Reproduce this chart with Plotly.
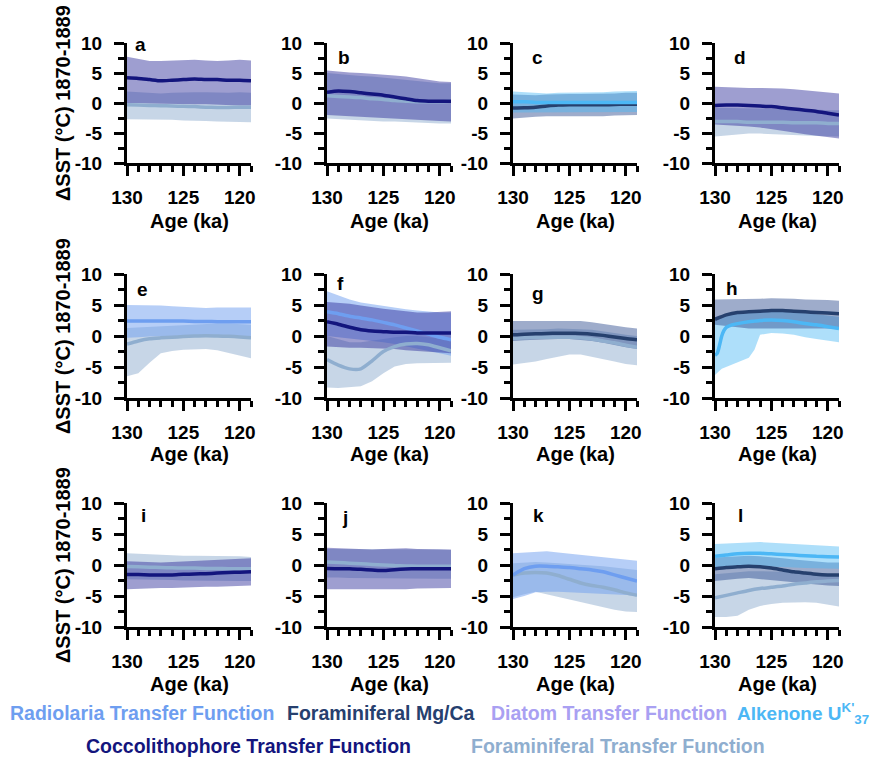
import plotly.graph_objects as go

# ---------------- data ----------------
AGE = [130, 129, 128, 127, 126, 125, 124, 123, 122, 121, 120, 119]
AGE_H_ALK = [130, 129.8, 129.6, 129.4, 129.2, 129, 128.5, 128, 127, 126.5, 126, 125, 124, 123, 122, 121, 120, 119]

X_TICKS = [130, 125, 120]
X_TICK_LABELS = ["130", "125", "120"]
X_MINOR = [129, 128, 127, 126, 124, 123, 122, 121, 119]
Y_TICKS = [-10, -5, 0, 5, 10]
Y_TICK_LABELS = ["-10", "-5", "0", "5", "10"]
Y_MINOR = [-7.5, -2.5, 2.5, 7.5]
PANEL_LETTERS = ["a", "b", "c", "d", "e", "f", "g", "h", "i", "j", "k", "l"]

# panel a
A_COCCO_MEAN = [4.2, 4.1, 3.9, 3.7, 3.8, 3.9, 4.0, 3.9, 3.9, 3.8, 3.8, 3.7]
A_COCCO_HI = [7.7, 7.3, 7.0, 7.0, 7.1, 7.2, 7.2, 7.1, 7.0, 7.1, 7.2, 7.1]
A_COCCO_LO = [0.0, 0.0, -0.1, -0.1, -0.1, -0.2, -0.2, -0.2, -0.3, -0.3, -0.4, -0.4]
A_FORAM_MEAN = [-0.3, -0.35, -0.4, -0.45, -0.5, -0.55, -0.6, -0.7, -0.75, -0.75, -0.7, -0.7]
A_FORAM_HI = [1.9, 1.8, 1.6, 1.6, 1.7, 1.8, 1.8, 1.8, 1.7, 1.7, 1.8, 1.7]
A_FORAM_LO = [-2.7, -2.7, -2.7, -2.8, -2.8, -2.9, -3.0, -3.0, -3.1, -3.1, -3.2, -3.2]
# panel b
B_COCCO_MEAN = [1.8, 2.0, 1.9, 1.7, 1.5, 1.3, 1.0, 0.7, 0.4, 0.3, 0.3, 0.3]
B_COCCO_HI = [5.4, 5.2, 5.1, 5.0, 4.9, 4.8, 4.6, 4.4, 4.1, 3.8, 3.6, 3.5]
B_COCCO_LO = [-2.0, -2.1, -2.2, -2.3, -2.4, -2.5, -2.6, -2.7, -2.8, -2.9, -3.0, -3.1]
B_FORAM_MEAN = [1.2, 1.1, 1.0, 0.9, 0.7, 0.6, 0.4, 0.3, 0.2, 0.2, 0.2, 0.3]
B_FORAM_HI = [5.0, 4.8, 4.7, 4.5, 4.4, 4.2, 4.0, 3.8, 3.6, 3.4, 3.3, 3.3]
B_FORAM_LO = [-2.6, -2.7, -2.8, -2.9, -3.0, -3.1, -3.1, -3.2, -3.3, -3.3, -3.4, -3.4]
# panel c
C_MGCA_MEAN = [-0.85, -0.8, -0.7, -0.5, -0.35, -0.3, -0.3, -0.3, -0.3, -0.25, -0.2, -0.2]
C_MGCA_HI = [1.4, 1.3, 1.3, 1.4, 1.5, 1.5, 1.5, 1.5, 1.6, 1.6, 1.7, 1.7]
C_MGCA_LO = [-2.6, -2.5, -2.3, -2.2, -2.1, -2.1, -2.2, -2.2, -2.2, -2.1, -2.0, -2.0]
C_ALK_MEAN = [0.2, 0.2, 0.1, 0.1, 0.1, 0.1, 0.1, 0.1, 0.1, 0.1, 0.1, 0.1]
C_ALK_HI = [1.9, 1.8, 1.6, 1.6, 1.7, 1.7, 1.7, 1.8, 1.8, 1.9, 2.0, 2.0]
C_ALK_LO = [-1.6, -1.6, -1.5, -1.5, -1.5, -1.5, -1.5, -1.5, -1.5, -1.5, -1.5, -1.5]
# panel d
D_COCCO_MEAN = [-0.4, -0.35, -0.35, -0.4, -0.5, -0.6, -0.8, -1.0, -1.2, -1.4, -1.7, -2.0]
D_COCCO_HI = [2.7, 2.6, 2.6, 2.5, 2.5, 2.5, 2.4, 2.3, 2.1, 1.9, 1.7, 1.6]
D_COCCO_LO = [-3.6, -3.7, -3.8, -3.9, -4.1, -4.3, -4.6, -4.9, -5.2, -5.5, -5.7, -5.9]
D_FORAM_MEAN = [-3.1, -3.1, -3.1, -3.2, -3.2, -3.2, -3.2, -3.3, -3.3, -3.3, -3.4, -3.4]
D_FORAM_HI = [-0.8, -0.8, -0.8, -0.9, -0.9, -1.0, -1.0, -1.0, -1.1, -1.1, -1.2, -1.2]
D_FORAM_LO = [-5.6, -5.4, -5.2, -5.1, -5.1, -5.1, -5.2, -5.3, -5.4, -5.5, -5.6, -5.6]
# panel e
E_RADIO_MEAN = [2.4, 2.4, 2.4, 2.4, 2.4, 2.4, 2.35, 2.35, 2.3, 2.3, 2.3, 2.3]
E_RADIO_HI = [5.0, 5.0, 4.9, 4.9, 4.8, 4.7, 4.6, 4.5, 4.6, 4.6, 4.6, 4.6]
E_RADIO_LO = [-0.3, -0.2, -0.1, 0.0, 0.0, 0.0, 0.0, 0.0, 0.0, 0.0, 0.0, 0.0]
E_FORAM_MEAN = [-1.3, -0.8, -0.45, -0.3, -0.2, -0.1, 0.0, 0.05, 0.0, -0.05, -0.15, -0.3]
E_FORAM_HI = [1.3, 1.4, 1.5, 1.6, 1.7, 1.8, 1.9, 2.0, 2.0, 2.0, 1.9, 1.8]
E_FORAM_LO = [-6.5, -6.0, -4.3, -2.8, -2.4, -2.2, -2.1, -2.1, -2.3, -2.7, -3.2, -3.6]
# panel f
F_COCCO_MEAN = [2.3, 1.9, 1.4, 1.0, 0.8, 0.7, 0.6, 0.6, 0.5, 0.5, 0.5, 0.5]
F_COCCO_HI = [5.5, 5.4, 5.2, 4.9, 4.6, 4.4, 4.2, 4.0, 3.8, 3.8, 3.9, 4.0]
F_COCCO_LO = [-1.7, -1.8, -1.9, -1.9, -2.0, -2.0, -2.1, -2.3, -2.4, -2.6, -2.7, -2.8]
F_RADIO_MEAN = [3.9, 3.6, 3.2, 2.9, 2.6, 2.2, 1.8, 1.3, 0.8, 0.3, -0.2, -0.6]
F_RADIO_HI = [7.2, 6.5, 5.9, 5.4, 5.1, 4.8, 4.5, 4.3, 4.1, 3.9, 3.8, 3.8]
F_RADIO_LO = [0.0, -0.2, -0.4, -0.6, -0.8, -1.0, -1.3, -1.6, -2.0, -2.4, -2.8, -3.2]
F_FORAM_MEAN = [-3.8, -4.7, -5.3, -5.3, -4.0, -2.5, -1.7, -1.3, -1.2, -1.4, -1.9, -2.4]
F_FORAM_HI = [0.0, -0.5, -1.0, -1.0, -0.8, -0.5, -0.2, 0.0, 0.0, -0.2, -0.4, -0.6]
F_FORAM_LO = [-8.3, -8.4, -8.3, -8.1, -7.3, -6.0, -4.9, -4.5, -4.4, -4.3, -4.3, -4.3]
# panel g
G_MGCA_MEAN = [0.2, 0.3, 0.35, 0.4, 0.45, 0.45, 0.4, 0.3, 0.1, -0.15, -0.4, -0.6]
G_MGCA_HI = [2.4, 2.4, 2.4, 2.4, 2.5, 2.5, 2.4, 2.2, 1.9, 1.6, 1.4, 1.2]
G_MGCA_LO = [-0.8, -0.7, -0.6, -0.5, -0.5, -0.5, -0.6, -0.8, -1.1, -1.4, -1.8, -2.1]
G_FORAM_MEAN = [-0.4, -0.3, -0.2, -0.2, -0.2, -0.2, -0.3, -0.5, -0.8, -1.1, -1.5, -1.8]
G_FORAM_HI = [1.0, 1.0, 1.1, 1.1, 1.2, 1.2, 1.1, 1.0, 0.8, 0.5, 0.2, 0.0]
G_FORAM_LO = [-4.6, -4.4, -4.1, -3.7, -3.3, -3.0, -3.0, -3.3, -3.7, -4.1, -4.5, -4.7]
# panel h
H_MGCA_MEAN = [2.7, 3.4, 3.8, 3.9, 4.0, 4.1, 4.1, 4.0, 3.9, 3.8, 3.7, 3.6]
H_MGCA_HI = [5.9, 5.9, 5.9, 6.0, 6.0, 6.1, 6.1, 6.0, 5.9, 5.9, 5.8, 5.7]
H_MGCA_LO = [1.8, 1.6, 1.4, 1.2, 1.2, 1.2, 1.2, 1.2, 1.2, 1.2, 1.2, 1.2]
H_ALK_MEAN = [-3.1, -2.8, -1.5, 0.0, 0.9, 1.4, 1.8, 2.0, 2.3, 2.4, 2.5, 2.6, 2.5, 2.3, 2.0, 1.8, 1.5, 1.2]
H_ALK_HI = [3.0, 3.0, 3.1, 3.2, 3.3, 3.4, 3.6, 3.7, 3.8, 3.85, 3.9, 4.0, 4.0, 3.9, 3.7, 3.5, 3.3, 3.1]
H_ALK_LO = [-6.3, -6.0, -5.6, -5.3, -5.1, -5.0, -4.6, -4.2, -3.5, -2.2, 0.2, 0.5, 0.4, 0.2, -0.2, -0.5, -0.8, -1.0]
# panel i
I_COCCO_MEAN = [-1.55, -1.55, -1.6, -1.6, -1.6, -1.5, -1.45, -1.4, -1.3, -1.2, -1.15, -1.1]
I_COCCO_HI = [0.6, 0.5, 0.4, 0.4, 0.5, 0.6, 0.7, 0.8, 0.9, 1.0, 1.1, 1.1]
I_COCCO_LO = [-3.9, -3.8, -3.8, -3.7, -3.7, -3.6, -3.6, -3.5, -3.5, -3.4, -3.4, -3.3]
I_FORAM_MEAN = [-0.25, -0.3, -0.35, -0.4, -0.45, -0.5, -0.5, -0.55, -0.55, -0.6, -0.6, -0.6]
I_FORAM_HI = [1.9, 1.8, 1.7, 1.6, 1.6, 1.5, 1.5, 1.5, 1.4, 1.4, 1.4, 1.3]
I_FORAM_LO = [-2.3, -2.3, -2.4, -2.4, -2.4, -2.5, -2.5, -2.5, -2.6, -2.6, -2.6, -2.6]
# panel j
J_COCCO_MEAN = [-0.55, -0.6, -0.6, -0.7, -0.8, -0.9, -0.75, -0.65, -0.6, -0.6, -0.6, -0.6]
J_COCCO_HI = [2.8, 2.7, 2.7, 2.6, 2.5, 2.6, 2.7, 2.7, 2.6, 2.6, 2.5, 2.5]
J_COCCO_LO = [-3.9, -3.9, -3.9, -4.0, -4.0, -4.0, -3.9, -3.9, -3.8, -3.8, -3.7, -3.7]
J_FORAM_MEAN = [0.5, 0.4, 0.3, 0.2, 0.1, 0.0, -0.1, -0.15, -0.2, -0.2, -0.2, -0.2]
J_FORAM_HI = [2.6, 2.6, 2.6, 2.6, 2.5, 2.5, 2.5, 2.5, 2.5, 2.5, 2.5, 2.4]
J_FORAM_LO = [-2.0, -2.0, -2.1, -2.1, -2.1, -2.2, -2.2, -2.2, -2.2, -2.2, -2.2, -2.2]
# panel k
K_RADIO_MEAN = [-1.6, -0.6, -0.2, -0.2, -0.3, -0.4, -0.6, -0.8, -1.1, -1.6, -2.1, -2.6]
K_RADIO_HI = [1.9, 2.0, 2.1, 2.2, 2.0, 1.8, 1.6, 1.4, 1.3, 1.0, 0.8, 0.7]
K_RADIO_LO = [-5.5, -5.0, -4.4, -4.3, -4.3, -4.3, -4.4, -4.5, -4.6, -4.7, -4.8, -4.9]
K_FORAM_MEAN = [-1.6, -1.3, -1.2, -1.3, -1.7, -2.3, -2.9, -3.3, -3.6, -4.0, -4.5, -4.9]
K_FORAM_HI = [0.3, 0.4, 0.5, 0.4, 0.3, 0.2, 0.1, 0.0, -0.2, -0.4, -0.6, -0.8]
K_FORAM_LO = [-5.2, -4.7, -4.3, -4.7, -5.2, -5.6, -6.0, -6.4, -6.8, -7.2, -7.5, -7.6]
# panel l
L_ALK_MEAN = [1.4, 1.6, 1.8, 1.9, 1.9, 1.8, 1.7, 1.6, 1.5, 1.4, 1.35, 1.3]
L_ALK_HI = [3.4, 3.5, 3.6, 3.7, 3.7, 3.6, 3.5, 3.3, 3.2, 3.1, 3.0, 3.0]
L_ALK_LO = [-0.4, -0.3, -0.2, -0.1, -0.1, -0.2, -0.3, -0.4, -0.5, -0.6, -0.6, -0.6]
L_MGCA_MEAN = [-0.6, -0.4, -0.3, -0.2, -0.3, -0.5, -0.8, -1.1, -1.3, -1.5, -1.6, -1.6]
L_MGCA_HI = [1.2, 1.3, 1.4, 1.5, 1.4, 1.3, 1.1, 0.9, 0.7, 0.5, 0.4, 0.4]
L_MGCA_LO = [-2.6, -2.4, -2.2, -2.1, -2.2, -2.4, -2.6, -2.8, -3.0, -3.2, -3.3, -3.4]
L_FORAM_MEAN = [-5.3, -4.9, -4.5, -4.1, -3.8, -3.6, -3.4, -3.1, -2.9, -2.7, -2.6, -2.5]
L_FORAM_HI = [-1.5, -1.3, -1.1, -1.0, -1.0, -1.0, -1.1, -1.2, -1.3, -1.4, -1.5, -1.6]
L_FORAM_LO = [-8.4, -8.4, -8.2, -7.2, -6.6, -6.3, -6.1, -6.0, -6.0, -6.1, -6.4, -6.7]

LEGEND_NAMES = {
    "radio": "Radiolaria Transfer Function",
    "mgca": "Foraminiferal Mg/Ca",
    "diatom": "Diatom Transfer Function",
    "alk": "Alkenone U<sup>K'</sup><sub>37</sub>",
    "cocco": "Coccolithophore Transfer Function",
    "foram": "Foraminiferal Transfer Function",
}

PANELS = [
    [("foram", AGE, A_FORAM_MEAN, A_FORAM_LO, A_FORAM_HI), ("cocco", AGE, A_COCCO_MEAN, A_COCCO_LO, A_COCCO_HI)],
    [("foram", AGE, B_FORAM_MEAN, B_FORAM_LO, B_FORAM_HI), ("cocco", AGE, B_COCCO_MEAN, B_COCCO_LO, B_COCCO_HI)],
    [("mgca", AGE, C_MGCA_MEAN, C_MGCA_LO, C_MGCA_HI), ("alk", AGE, C_ALK_MEAN, C_ALK_LO, C_ALK_HI)],
    [("foram", AGE, D_FORAM_MEAN, D_FORAM_LO, D_FORAM_HI), ("cocco", AGE, D_COCCO_MEAN, D_COCCO_LO, D_COCCO_HI)],
    [("foram", AGE, E_FORAM_MEAN, E_FORAM_LO, E_FORAM_HI), ("radio", AGE, E_RADIO_MEAN, E_RADIO_LO, E_RADIO_HI)],
    [("foram", AGE, F_FORAM_MEAN, F_FORAM_LO, F_FORAM_HI), ("radio", AGE, F_RADIO_MEAN, F_RADIO_LO, F_RADIO_HI),
     ("cocco", AGE, F_COCCO_MEAN, F_COCCO_LO, F_COCCO_HI)],
    [("foram", AGE, G_FORAM_MEAN, G_FORAM_LO, G_FORAM_HI), ("mgca", AGE, G_MGCA_MEAN, G_MGCA_LO, G_MGCA_HI)],
    [("alk", AGE_H_ALK, H_ALK_MEAN, H_ALK_LO, H_ALK_HI), ("mgca", AGE, H_MGCA_MEAN, H_MGCA_LO, H_MGCA_HI)],
    [("foram", AGE, I_FORAM_MEAN, I_FORAM_LO, I_FORAM_HI), ("cocco", AGE, I_COCCO_MEAN, I_COCCO_LO, I_COCCO_HI)],
    [("foram", AGE, J_FORAM_MEAN, J_FORAM_LO, J_FORAM_HI), ("cocco", AGE, J_COCCO_MEAN, J_COCCO_LO, J_COCCO_HI)],
    [("foram", AGE, K_FORAM_MEAN, K_FORAM_LO, K_FORAM_HI), ("radio", AGE, K_RADIO_MEAN, K_RADIO_LO, K_RADIO_HI)],
    [("foram", AGE, L_FORAM_MEAN, L_FORAM_LO, L_FORAM_HI), ("mgca", AGE, L_MGCA_MEAN, L_MGCA_LO, L_MGCA_HI),
     ("alk", AGE, L_ALK_MEAN, L_ALK_LO, L_ALK_HI)],
]

# ---------------- style ----------------
LINE_COL = {"radio": "#6e9ef0", "mgca": "#26406e", "diatom": "#a9a0f2",
            "alk": "#4cb7f5", "cocco": "#13157d", "foram": "#8faecf"}
BAND_COL = {"radio": "rgba(110,158,240,0.5)", "mgca": "rgba(40,70,140,0.45)",
            "diatom": "rgba(169,160,242,0.5)", "alk": "rgba(76,183,245,0.45)",
            "cocco": "rgba(40,40,150,0.45)", "foram": "rgba(143,174,207,0.5)"}

W, H = 871, 761
FONT = "Liberation Sans, Arial, sans-serif"
COL_X = [127, 327, 513, 715]
PANEL_W = 124
ROW_Y = [(43, 163), (274, 398), (503, 627)]
LETTER_POS = [(140, 45), (344, 58), (537, 57), (740, 58),
              (142, 290), (340, 283), (538, 293), (732, 288),
              (143, 515), (345, 517), (538, 515), (740, 515)]
XTITLE_Y = [221, 454, 684]


def px(x):
    return x / W


def py(y):
    return 1 - y / H


fig = go.Figure()
layout = dict(width=W, height=H, margin=dict(l=0, r=0, t=0, b=0, pad=0, autoexpand=False),
              paper_bgcolor="white", plot_bgcolor="rgba(0,0,0,0)", showlegend=False)
annotations = []
bold = dict(family=FONT, size=19, color="black", weight="bold")

for i, series in enumerate(PANELS):
    r, c = divmod(i, 4)
    n = i + 1
    xa = "x" if n == 1 else f"x{n}"
    ya = "y" if n == 1 else f"y{n}"
    for key, ages, mean, lo, hi in series:
        fig.add_trace(go.Scatter(x=list(ages) + list(ages)[::-1], y=list(hi) + list(lo)[::-1],
                                 fill="toself", fillcolor=BAND_COL[key], line=dict(width=0),
                                 mode="lines", xaxis=xa, yaxis=ya, hoverinfo="skip"))
    for key, ages, mean, lo, hi in series:
        fig.add_trace(go.Scatter(x=ages, y=mean, mode="lines",
                                 line=dict(color=LINE_COL[key], width=3.5, shape="spline", smoothing=0.6),
                                 xaxis=xa, yaxis=ya, name=LEGEND_NAMES[key]))
    x0 = COL_X[c]
    yt, yb = ROW_Y[r]
    ax_common = dict(showline=True, linewidth=3, linecolor="black", ticks="outside",
                     ticklen=10, tickwidth=3, tickcolor="black", showgrid=False, zeroline=False,
                     tickfont=bold, fixedrange=True, automargin=False)
    layout["xaxis" if n == 1 else f"xaxis{n}"] = dict(
        ax_common, domain=[px(x0), px(x0 + PANEL_W)], range=[130, 119], anchor=ya,
        ticklabelstandoff=5,
        tickmode="array", tickvals=X_TICKS, ticktext=X_TICK_LABELS,
        minor=dict(tickmode="array", tickvals=X_MINOR, ticks="outside", ticklen=6,
                   tickwidth=2.5, tickcolor="black", showgrid=False))
    layout["yaxis" if n == 1 else f"yaxis{n}"] = dict(
        ax_common, domain=[py(yb), py(yt)], range=[-10, 10], anchor=xa,
        ticklabelstandoff=8,
        tickmode="array", tickvals=Y_TICKS, ticktext=Y_TICK_LABELS,
        minor=dict(tickmode="array", tickvals=Y_MINOR, ticks="outside", ticklen=6,
                   tickwidth=2.5, tickcolor="black", showgrid=False))
    lx, ly = LETTER_POS[i]
    annotations.append(dict(text=PANEL_LETTERS[i], x=px(lx), y=py(ly), xref="paper", yref="paper",
                            showarrow=False, xanchor="center", yanchor="middle", font=bold))
    annotations.append(dict(text="Age (ka)", x=px(x0 + PANEL_W / 2), y=py(XTITLE_Y[r]), xref="paper",
                            yref="paper", showarrow=False, xanchor="center", yanchor="middle",
                            font=dict(bold, size=20)))
    if c == 0:
        annotations.append(dict(text="ΔSST (°C) 1870-1889", x=px(63), y=py((yt + yb) / 2),
                                xref="paper", yref="paper", showarrow=False, textangle=-90,
                                xanchor="center", yanchor="middle", font=dict(bold, size=20)))

LEGEND_ROWS = [[("radio", 8), ("mgca", 285), ("diatom", 489), ("alk", 735)],
               [("cocco", 84), ("foram", 469)]]
LEGEND_Y = [713, 746]
for row, yy in zip(LEGEND_ROWS, LEGEND_Y):
    for key, xx in row:
        annotations.append(dict(text=LEGEND_NAMES[key], x=px(xx), y=py(yy), xref="paper", yref="paper",
                                showarrow=False, xanchor="left", yanchor="middle",
                                font=dict(family=FONT, size=19.5 if key != "alk" else 19,
                                          color=LINE_COL[key], weight="bold")))

layout["annotations"] = annotations
fig.update_layout(**layout)
fig.write_html("out.html")
